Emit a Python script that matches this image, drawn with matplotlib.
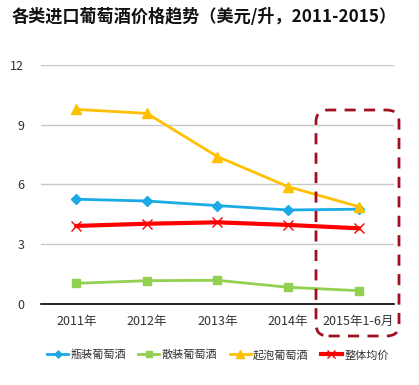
import numpy as np
import matplotlib
matplotlib.use('Agg')
import matplotlib.pyplot as plt
from matplotlib.patches import FancyBboxPatch

plt.rcParams['font.family'] = ['Noto Sans CJK SC', 'DejaVu Sans']

# Data
categories = ['2011年', '2012年', '2013年', '2014年', '2015年1-6月']
bottled   = [5.26, 5.17, 4.94, 4.72, 4.76]   # 瓶装葡萄酒
bulk      = [1.04, 1.17, 1.19, 0.84, 0.67]   # 散装葡萄酒
sparkling = [9.77, 9.57, 7.40, 5.89, 4.89]   # 起泡葡萄酒
average   = [3.92, 4.03, 4.10, 3.97, 3.80]   # 整体均价
yticks = [0, 3, 6, 9, 12]

fig = plt.figure(figsize=(4.19, 3.85), dpi=100)
ax = fig.add_axes([0.098, 0.2104, 0.842, 0.6208])

x = np.arange(len(categories))

ax.plot(x, bottled, '-', color='#1AAAE6', lw=2.0, marker='D', ms=4.8,
        label='瓶装葡萄酒')
ax.plot(x, bulk, '-', color='#92D050', lw=2.0, marker='s', ms=5.8,
        label='散装葡萄酒')
ax.plot(x, sparkling, '-', color='#FFC000', lw=2.0, marker='^', ms=7,
        label='起泡葡萄酒')
ax.plot(x, average, '-', color='#FF0000', lw=3.0, marker='x', ms=7.5,
        mew=1.0, label='整体均价')

ax.set_xlim(-0.5, len(categories) - 0.5)
ax.set_ylim(0, 12)
ax.set_yticks(yticks)
ax.set_xticks(x)
ax.set_xticklabels(categories)
ax.yaxis.grid(True, color='#C8C8C8', lw=1.0)
ax.set_axisbelow(True)
for s in ['left', 'right', 'top']:
    ax.spines[s].set_visible(False)
ax.spines['bottom'].set_color('black')
ax.spines['bottom'].set_linewidth(1.2)
ax.tick_params(axis='both', length=0, labelsize=9, colors='#333333')
ax.tick_params(axis='y', pad=12)
ax.tick_params(axis='x', pad=8)

# title
fig.text(0.028, 0.955, '各类进口葡萄酒价格趋势（美元/升，2011-2015）',
         fontsize=12.3, fontweight='bold', ha='left', va='center', color='#111111')

# dashed highlight box around the last category
box = FancyBboxPatch((316 / 419, 1 - 336 / 385), 83 / 419, 226 / 385,
                     boxstyle='round,pad=0,rounding_size=0.03',
                     transform=fig.transFigure, fill=False,
                     edgecolor='#A01020', lw=2.0, ls=(0, (4, 3)))
fig.patches.append(box)

fig.legend(loc='center', bbox_to_anchor=(0.52, 0.078), ncol=4, frameon=False,
           fontsize=8, handlelength=1.9, handletextpad=0.2, columnspacing=1.1,
           markerscale=0.75, labelcolor='#333333')

fig.savefig('out.png', dpi=100)
